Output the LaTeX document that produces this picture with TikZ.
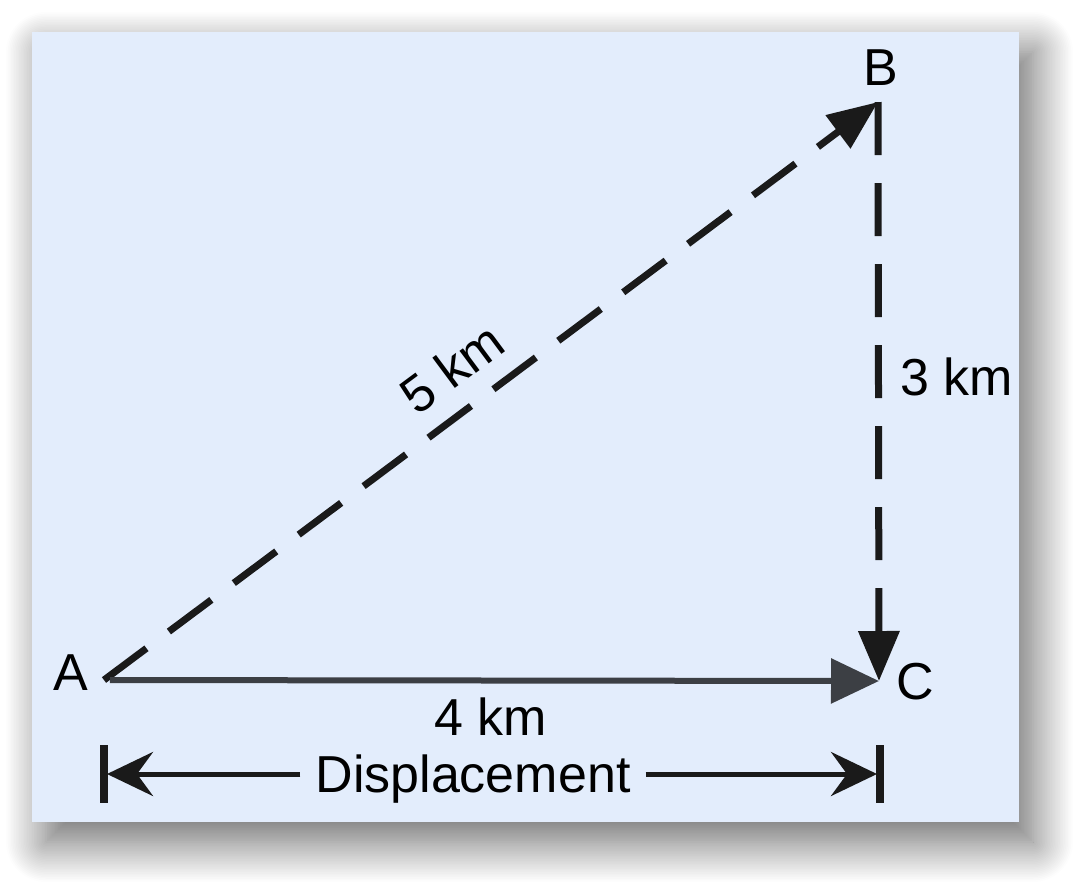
\documentclass[tikz,border=0pt]{standalone}
\usepackage{fontspec}
\setmainfont{Liberation Sans}
\usetikzlibrary{arrows.meta,shadows.blur}
\definecolor{bgblue}{HTML}{E3EDFC}
\definecolor{darkline}{HTML}{1A1A1A}
\definecolor{grayline}{HTML}{3C3F44}
\begin{document}
\begin{tikzpicture}[x=1pt,y=-1pt,
  lbl/.style={font=\fontsize{52}{60}\selectfont, inner sep=0pt, text=black},
  dashvec/.style={draw=darkline, line width=7pt, dash pattern=on 53pt off 28pt,
    -{Triangle[length=50pt,width=40pt]}},
  solidvec/.style={draw=grayline, line width=6pt, -{Triangle[length=48pt,width=44pt]}},
  dimarrow/.style={draw=darkline, line width=5pt, -{Stealth[length=46pt,width=44pt,inset=16pt]}},
  dimbar/.style={draw=darkline, line width=8pt}]
\useasboundingbox (0,0) rectangle (1084,887);
\fill[bgblue, blur shadow={shadow xshift=14pt, shadow yshift=-20pt, shadow blur radius=40pt, shadow blur steps=25, shadow opacity=60}]
  (32,32) rectangle (1019,822);

\coordinate (A) at (104,680);
\coordinate (B) at (878,102);
\coordinate (C) at (879,681);

\draw[dashvec] (A) -- (B);
\draw[dashvec] (B) -- (C);
\draw[solidvec, shorten <=6pt] (A) -- (C);

\node[lbl, anchor=base] (lA) at (71,690) {A};
\node[lbl, anchor=base] (lB) at (881,85) {B};
\node[lbl, anchor=base] (lC) at (915,699) {C};
\node[lbl, anchor=base] (l4) at (491,735) {4 km};
\node[lbl, anchor=base] (l3) at (957,395) {3 km};
\node[lbl, rotate=36.6] (l5) at (452,368) {5 km};

% dimension
\coordinate (DLt) at (104,745);
\coordinate (DLb) at (104,803);
\coordinate (DRt) at (880,745);
\coordinate (DRb) at (880,803);
\coordinate (DL) at (107,774);
\coordinate (DR) at (877,774);
\draw[dimbar] (DLt) -- (DLb);
\draw[dimbar] (DRt) -- (DRb);
\node[lbl, anchor=base, inner xsep=15pt] (disp) at (473,792) {Displacement};
\draw[dimarrow] (disp.west |- DL) -- (DL);
\draw[dimarrow] (disp.east |- DR) -- (DR);
\end{tikzpicture}
\end{document}
